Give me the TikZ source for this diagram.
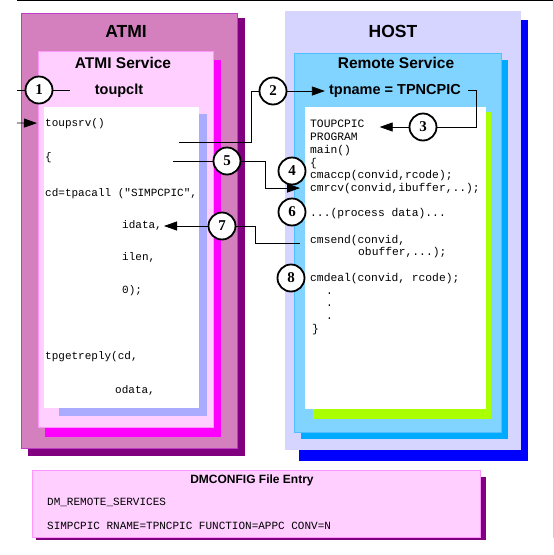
\documentclass[tikz,border=0pt]{standalone}
\usepackage{fontspec}
\setmainfont{Liberation Sans}
\newfontfamily\codefont{Liberation Mono}
\newfontfamily\numfont{Liberation Serif}
\usetikzlibrary{positioning, arrows.meta, calc}

\definecolor{atmifill}{RGB}{213,128,190}
\definecolor{atmishade}{RGB}{128,0,128}
\definecolor{atmiline}{RGB}{190,60,200}
\definecolor{svcfill}{RGB}{255,208,255}
\definecolor{svcline}{RGB}{255,150,255}
\definecolor{svcshade}{RGB}{255,0,255}
\definecolor{lcodeshade}{RGB}{170,170,255}
\definecolor{hostfill}{RGB}{213,213,255}
\definecolor{hostshade}{RGB}{0,0,255}
\definecolor{remfill}{RGB}{128,212,255}
\definecolor{remline}{RGB}{80,190,255}
\definecolor{remshade}{RGB}{0,170,255}
\definecolor{rcodeshade}{RGB}{170,255,0}

\begin{document}
\begin{tikzpicture}[
    x=1pt, y=-1pt,
    % one style per text size: headings in sans, listings in mono
    big/.style   = {anchor=base, inner sep=0pt, font=\fontsize{17.5}{20}\selectfont\bfseries},
    med/.style   = {anchor=base, inner sep=0pt, font=\fontsize{15.5}{18}\selectfont\bfseries},
    sub/.style   = {anchor=base, inner sep=0pt, font=\fontsize{14.5}{17}\selectfont\bfseries},
    code/.style  = {anchor=base west, inner sep=0pt, font=\codefont\fontsize{11}{13}\selectfont},
    hcode/.style = {code, font=\codefont\fontsize{11.3}{13}\selectfont},
    num/.style   = {circle, draw, fill=white, line width=1.8pt, minimum size=27pt,
                    inner sep=0pt, font=\numfont\fontsize{15}{18}\selectfont\bfseries},
    link/.style  = {line width=0.8pt},
    arr/.style   = {link, -{Triangle[length=13pt, width=9pt]}},
  ]
  \useasboundingbox (0,0) rectangle (554,555);

  \draw[line width=1pt] (17,0.5) -- (554,0.5);
  \draw[gray!40, line width=1pt] (553,0) -- (553,538);

  %% ---------- left: the ATMI side ----------
  \fill[atmishade] (28,18) rectangle (245,456);
  \draw[atmiline, fill=atmifill] (21,13) rectangle (237,448);
  \fill[svcshade] (45,60) rectangle (221,437);
  \draw[svcline, fill=svcfill] (38,51) rectangle (213,427);
  \fill[lcodeshade] (59,114) rectangle (207,416);
  \fill[white] (44,107) rectangle (199,408);

  \node[big] (atmi) at (126,37) {ATMI};
  \node[med] (atmisvc) at (123,68) {ATMI Service};
  \node[sub] (toupclt) at (119,94) {toupclt};

  \node[code] (srv)      at (45,126) {toupsrv()};
  \node[code] (lbrace)   at (45,160) {\{};
  \node[code] (tpacall)  at (45,196) {cd=tpacall ("SIMPCPIC",};
  \node[code] (idata)    at (122,228) {idata,};
  \node[code] (ilen)     at (122,260) {ilen,};
  \node[code] (zero)     at (122,293) {0);};
  \node[code] (getreply) at (45,359) {tpgetreply(cd,};
  \node[code] (odata)    at (115,393) {odata,};

  %% ---------- right: the HOST side ----------
  \fill[hostshade] (299,20) rectangle (528,461);
  \fill[hostfill] (285,11) rectangle (521,450);
  \fill[remshade] (301,60) rectangle (508,439);
  \draw[remline, fill=remfill] (294,53) rectangle (501,432);
  \fill[rcodeshade] (313,112) rectangle (491,419);
  \fill[white] (305,107) rectangle (486,409);

  \node[big] (host) at (393,37) {HOST};
  \node[med] (remsvc) at (396,68) {Remote Service};
  \node[sub] (tpname) at (395,94) {tpname = TPNCPIC};

  \node[hcode] (toupcpic) at (310,127) {TOUPCPIC};
  \node[hcode] (program)  at (310,140) {PROGRAM};
  \node[hcode] (mainfn)   at (310,153) {main()};
  \node[hcode] (hbrace)   at (310,166) {\{};
  \node[hcode] (cmaccp)   at (310,178.5) {cmaccp(convid,rcode);};
  \node[hcode] (cmrcv)    at (310,191) {cmrcv(convid,ibuffer,..);};
  \node[hcode] (process)  at (310,216) {...(process data)...};
  \node[hcode] (cmsend)   at (310,243) {cmsend(convid,};
  \node[hcode] (obuffer)  at (358,255) {obuffer,...);};
  \node[hcode] (cmdeal)   at (310,281) {cmdeal(convid, rcode);};
  \node[hcode] (dotA)     at (326,294) {.};
  \node[hcode] (dotB)     at (326,306) {.};
  \node[hcode] (dotC)     at (326,319) {.};
  \node[hcode] (hclose)   at (312,332) {\}};

  %% ---------- numbered steps ----------
  \node[num] (c1) at (39,90)   {1};
  \node[num] (c2) at (273,91)  {2};
  \node[num] (c3) at (423,127) {3};
  \node[num] (c4) at (292,171) {4};
  \node[num] (c5) at (227,161) {5};
  \node[num] (c6) at (292,212) {6};
  \node[num] (c7) at (222,226) {7};
  \node[num] (c8) at (291,278) {8};

  \coordinate (in1)   at (17,90);
  \coordinate (out1)  at (70,90);
  \coordinate (in0)   at (17,123);
  \coordinate (from2) at (179,142);
  \coordinate (from5) at (173,161);

  \draw[link] (in1) -- (c1) -- (out1);
  \draw[arr, shorten >=8pt] (in0) -- (srv.west);

  \draw[link] (from2) -- (251,142) |- (c2);
  \draw[arr, shorten >=4pt] (c2) -- (c2 -| tpname.west);

  \draw[link] ([xshift=7pt]tpname.east) -- ++(8,0) |- (c3);
  \draw[arr] (c3) -- ($(c3 -| toupcpic.east)+(15,0)$);

  \draw[link] (from5) -- (c5);
  \draw[arr, shorten >=10pt] (c5) -- ++(38,0) |- (cmrcv.west);

  \draw[link] ([xshift=-10pt, yshift=-3pt]cmsend.west) -- ++(-45,0) |- (c7);
  \draw[arr] (c7) -- ($(c7 -| idata.east)+(2,0)$);

  %% ---------- bottom: the DMCONFIG entry ----------
  \fill[atmishade] (36,477) rectangle (486,540);
  \draw[svcline, fill=svcfill] (32,470) rectangle (480,537);
  \node[anchor=base, inner sep=0pt, font=\fontsize{12}{14}\selectfont\bfseries] (dmtitle) at (252,483) {DMCONFIG File Entry};
  \node[code] (dmsvc)  at (47,505) {DM\_REMOTE\_SERVICES};
  \node[code] (dmline) at (47,529) {SIMPCPIC RNAME=TPNCPIC FUNCTION=APPC CONV=N};
\end{tikzpicture}
\end{document}
